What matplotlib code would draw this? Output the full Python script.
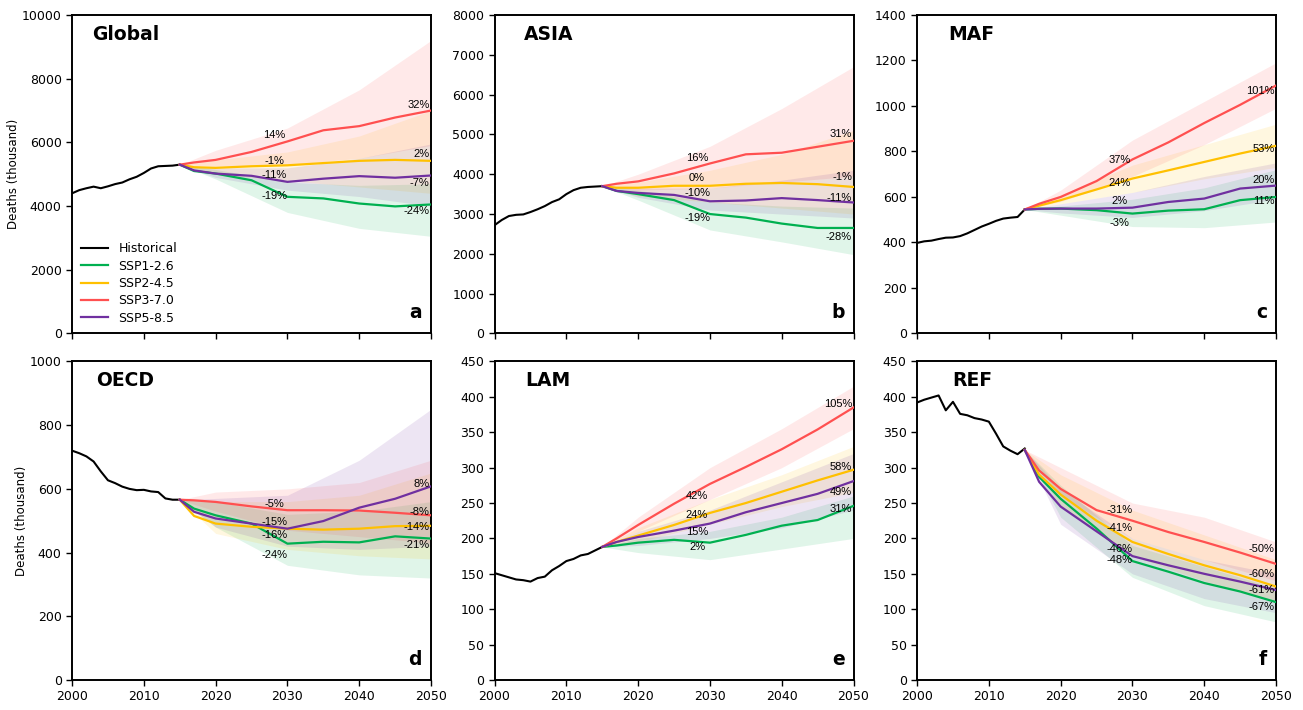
import matplotlib
matplotlib.use('Agg')
import matplotlib.pyplot as plt

# years
years_hist = list(range(2000, 2016))
years_proj = [2015, 2017, 2020, 2025, 2030, 2035, 2040, 2045, 2050]
years_band = [2015, 2020, 2030, 2040, 2050]

scenarios = ['SSP1-2.6', 'SSP2-4.5', 'SSP3-7.0', 'SSP5-8.5']
colors = ['#00B050', '#FFC000', '#FF5050', '#7030A0']

# ---- Global (thousand deaths)
global_hist = [4400, 4500, 4560, 4610, 4560, 4620, 4690, 4740, 4840, 4920, 5040, 5180, 5250, 5260, 5270, 5300]
global_ssp126 = [5300, 5100, 5020, 4810, 4290, 4240, 4080, 3990, 4050]
global_ssp245 = [5300, 5220, 5200, 5250, 5280, 5350, 5420, 5450, 5420]
global_ssp370 = [5300, 5370, 5450, 5700, 6030, 6380, 6510, 6780, 7000]
global_ssp585 = [5300, 5120, 5020, 4950, 4760, 4860, 4940, 4890, 4960]
global_lo = [[5300, 4850, 3800, 3300, 3050], [5300, 5000, 4800, 4600, 4400],
             [5300, 5250, 5300, 5500, 5900], [5300, 4900, 4500, 4300, 4000]]
global_hi = [[5300, 5150, 4750, 4650, 4700], [5300, 5450, 5700, 6200, 7000],
             [5300, 5750, 6450, 7650, 9200], [5300, 5200, 5200, 5500, 5950]]
global_mid_pct = [-19, -1, 14, -11]
global_end_pct = [-24, 2, 32, -7]

# ---- ASIA
asia_hist = [2720, 2850, 2950, 2980, 2990, 3050, 3120, 3200, 3300, 3370, 3500, 3600, 3660, 3680, 3690, 3700]
asia_ssp126 = [3700, 3580, 3500, 3350, 3000, 2910, 2760, 2650, 2650]
asia_ssp245 = [3700, 3660, 3660, 3710, 3710, 3760, 3780, 3750, 3680]
asia_ssp370 = [3700, 3760, 3820, 4020, 4270, 4500, 4540, 4690, 4840]
asia_ssp585 = [3700, 3580, 3530, 3480, 3320, 3340, 3400, 3350, 3290]
asia_lo = [[3700, 3350, 2600, 2300, 1980], [3700, 3450, 3300, 3150, 3000],
           [3700, 3600, 3650, 3800, 3950], [3700, 3420, 3100, 3000, 2900]]
asia_hi = [[3700, 3600, 3300, 3200, 3150], [3700, 3800, 4100, 4500, 5100],
           [3700, 4000, 4700, 5650, 6700], [3700, 3650, 3650, 3850, 4100]]
asia_mid_pct = [-19, 0, 16, -10]
asia_end_pct = [-28, -1, 31, -11]

# ---- MAF
maf_hist = [398, 405, 408, 415, 421, 422, 428, 440, 455, 470, 482, 495, 505, 509, 512, 545]
maf_ssp126 = [545, 548, 549, 542, 527, 540, 546, 586, 600]
maf_ssp245 = [545, 562, 586, 633, 681, 717, 754, 791, 825]
maf_ssp370 = [545, 570, 600, 670, 765, 840, 925, 1005, 1090]
maf_ssp585 = [545, 548, 549, 549, 553, 578, 593, 637, 650]
maf_lo = [[545, 520, 470, 465, 490], [545, 570, 620, 680, 730],
          [545, 580, 690, 830, 990], [545, 530, 510, 540, 590]]
maf_hi = [[545, 560, 590, 640, 720], [545, 610, 740, 830, 920],
          [545, 630, 850, 1020, 1190], [545, 570, 620, 690, 750]]
maf_mid_pct = [-3, 24, 37, 2]
maf_end_pct = [11, 53, 101, 20]

# ---- OECD
oecd_hist = [720, 712, 702, 686, 655, 627, 618, 607, 600, 596, 597, 592, 590, 570, 566, 566]
oecd_ssp126 = [566, 538, 517, 491, 428, 434, 432, 451, 444]
oecd_ssp245 = [566, 515, 491, 481, 475, 472, 475, 483, 484]
oecd_ssp370 = [566, 564, 559, 545, 533, 533, 532, 525, 517]
oecd_ssp585 = [566, 528, 507, 491, 475, 499, 541, 569, 608]
oecd_lo = [[566, 480, 360, 330, 320], [566, 460, 410, 390, 380],
           [566, 530, 470, 450, 430], [566, 480, 420, 410, 420]]
oecd_hi = [[566, 560, 520, 530, 560], [566, 560, 560, 580, 650],
           [566, 590, 600, 620, 690], [566, 570, 580, 690, 850]]
oecd_mid_pct = [-24, -16, -5, -15]
oecd_end_pct = [-21, -14, -8, 8]

# ---- LAM
lam_hist = [151, 148, 145, 142, 141, 139, 144, 146, 155, 161, 168, 171, 176, 178, 183, 188]
lam_ssp126 = [188, 190, 194, 198, 194, 205, 218, 226, 246]
lam_ssp245 = [188, 195, 204, 219, 236, 250, 266, 282, 297]
lam_ssp370 = [188, 200, 219, 249, 277, 301, 326, 354, 385]
lam_ssp585 = [188, 195, 202, 211, 221, 237, 250, 263, 281]
lam_lo = [[188, 180, 170, 185, 200], [188, 195, 220, 245, 265],
          [188, 210, 255, 300, 355], [188, 190, 200, 215, 240]]
lam_hi = [[188, 200, 210, 230, 260], [188, 215, 255, 290, 330],
          [188, 230, 300, 355, 415], [188, 210, 240, 280, 320]]
lam_mid_pct = [2, 24, 42, 15]
lam_end_pct = [31, 58, 105, 49]

# ---- REF
ref_hist = [392, 396, 399, 402, 381, 393, 376, 374, 370, 368, 365, 348, 330, 324, 319, 327]
ref_ssp126 = [325, 287, 256, 214, 168, 153, 137, 125, 110]
ref_ssp245 = [325, 290, 262, 225, 195, 178, 162, 148, 132]
ref_ssp370 = [325, 296, 270, 240, 225, 209, 195, 180, 164]
ref_ssp585 = [325, 280, 245, 210, 175, 162, 150, 139, 127]
ref_lo = [[325, 230, 145, 105, 82], [325, 245, 175, 140, 110],
          [325, 260, 200, 170, 140], [325, 220, 150, 115, 95]]
ref_hi = [[325, 275, 190, 160, 130], [325, 290, 240, 205, 170],
          [325, 300, 250, 230, 195], [325, 270, 200, 170, 150]]
ref_mid_pct = [-46, -41, -31, -48]
ref_end_pct = [-67, -60, -50, -61]

regions = ['Global', 'ASIA', 'MAF', 'OECD', 'LAM', 'REF']
letters = ['a', 'b', 'c', 'd', 'e', 'f']
panels = [
    (global_hist, [global_ssp126, global_ssp245, global_ssp370, global_ssp585], global_lo, global_hi, global_mid_pct, global_end_pct),
    (asia_hist, [asia_ssp126, asia_ssp245, asia_ssp370, asia_ssp585], asia_lo, asia_hi, asia_mid_pct, asia_end_pct),
    (maf_hist, [maf_ssp126, maf_ssp245, maf_ssp370, maf_ssp585], maf_lo, maf_hi, maf_mid_pct, maf_end_pct),
    (oecd_hist, [oecd_ssp126, oecd_ssp245, oecd_ssp370, oecd_ssp585], oecd_lo, oecd_hi, oecd_mid_pct, oecd_end_pct),
    (lam_hist, [lam_ssp126, lam_ssp245, lam_ssp370, lam_ssp585], lam_lo, lam_hi, lam_mid_pct, lam_end_pct),
    (ref_hist, [ref_ssp126, ref_ssp245, ref_ssp370, ref_ssp585], ref_lo, ref_hi, ref_mid_pct, ref_end_pct),
]

# axis settings and label layout
ylims = [10000, 8000, 1400, 1000, 450, 450]
ysteps = [2000, 1000, 200, 200, 50, 50]
title_x = [0.056, 0.081, 0.086, 0.067, 0.085, 0.097]
# vertical nudge of the percent labels in pixels (per scenario)
mid_dy = [[0.5, 5.4, 5.9, 8], [-3.4, 8.3, 5, 8], [-9.3, -3.2, 3.9, 6],
          [-11.8, -6.9, 5, 4.5], [-2.8, 0, -5.2, -5], [5.6, 15, 10, 0]]
end_dy = [[-5.8, 7, 5.5, -6.7], [-10, 10.8, 6.3, 4.5], [-5.5, -4.8, -6.8, 4.6],
          [-7.7, -2, 2.5, 1], [-3.6, 2.6, 2.8, -10.6], [-3, 13.5, 15.6, 0]]

fig, axes = plt.subplots(2, 3, figsize=(13.03, 7.10), dpi=100)
fig.subplots_adjust(left=0.0553, right=0.9793, top=0.9789, bottom=0.0423,
                    wspace=0.177, hspace=0.088)
axes = axes.flatten()

for i, ax in enumerate(axes):
    hist, lines, lo, hi, mid_pct, end_pct = panels[i]
    base = hist[-1]

    # uncertainty bands
    for k in range(4):
        ax.fill_between(years_band, lo[k], hi[k], color=colors[k], alpha=0.12,
                        linewidth=0, zorder=1)

    ax.plot(years_hist, hist, color='black', lw=1.5, label='Historical', zorder=3)
    for k in range(4):
        ax.plot(years_proj, lines[k], color=colors[k], lw=1.6, label=scenarios[k], zorder=3)

    # percentage labels
    for k in range(4):
        ax.annotate(f"{mid_pct[k]}%", xy=(2028.2, base * (1 + mid_pct[k] / 100)),
                    xytext=(0, mid_dy[i][k] * 0.72), textcoords='offset points',
                    ha='center', va='center', fontsize=8, family='Liberation Sans', zorder=4)
        ax.annotate(f"{end_pct[k]}%", xy=(2049.8, base * (1 + end_pct[k] / 100)),
                    xytext=(0, end_dy[i][k] * 0.72), textcoords='offset points',
                    ha='right', va='center', fontsize=8, family='Liberation Sans', zorder=4)

    ax.text(title_x[i], 0.94, regions[i], transform=ax.transAxes, fontsize=13.5,
            fontweight='bold', ha='left', va='center')
    ax.text(0.975, 0.065, letters[i], transform=ax.transAxes, fontsize=13.5,
            fontweight='bold', ha='right', va='center')

    ax.set_xlim(2000, 2050)
    ax.set_ylim(0, ylims[i])
    ax.set_xticks(range(2000, 2051, 10))
    ax.set_yticks(range(0, ylims[i] + 1, ysteps[i]))
    ax.tick_params(direction='out', length=4, width=1, labelsize=9)
    if i < 3:
        ax.set_xticklabels([])
    for s in ax.spines.values():
        s.set_linewidth(1.4)
    if i % 3 == 0:
        ax.set_ylabel('Deaths (thousand)', fontsize=8.5, labelpad=1)

axes[0].legend(loc='lower left', frameon=False, fontsize=9, handlelength=2.2,
               handletextpad=0.8, labelspacing=0.35, borderaxespad=0.3)

plt.savefig('out.png', dpi=100)
